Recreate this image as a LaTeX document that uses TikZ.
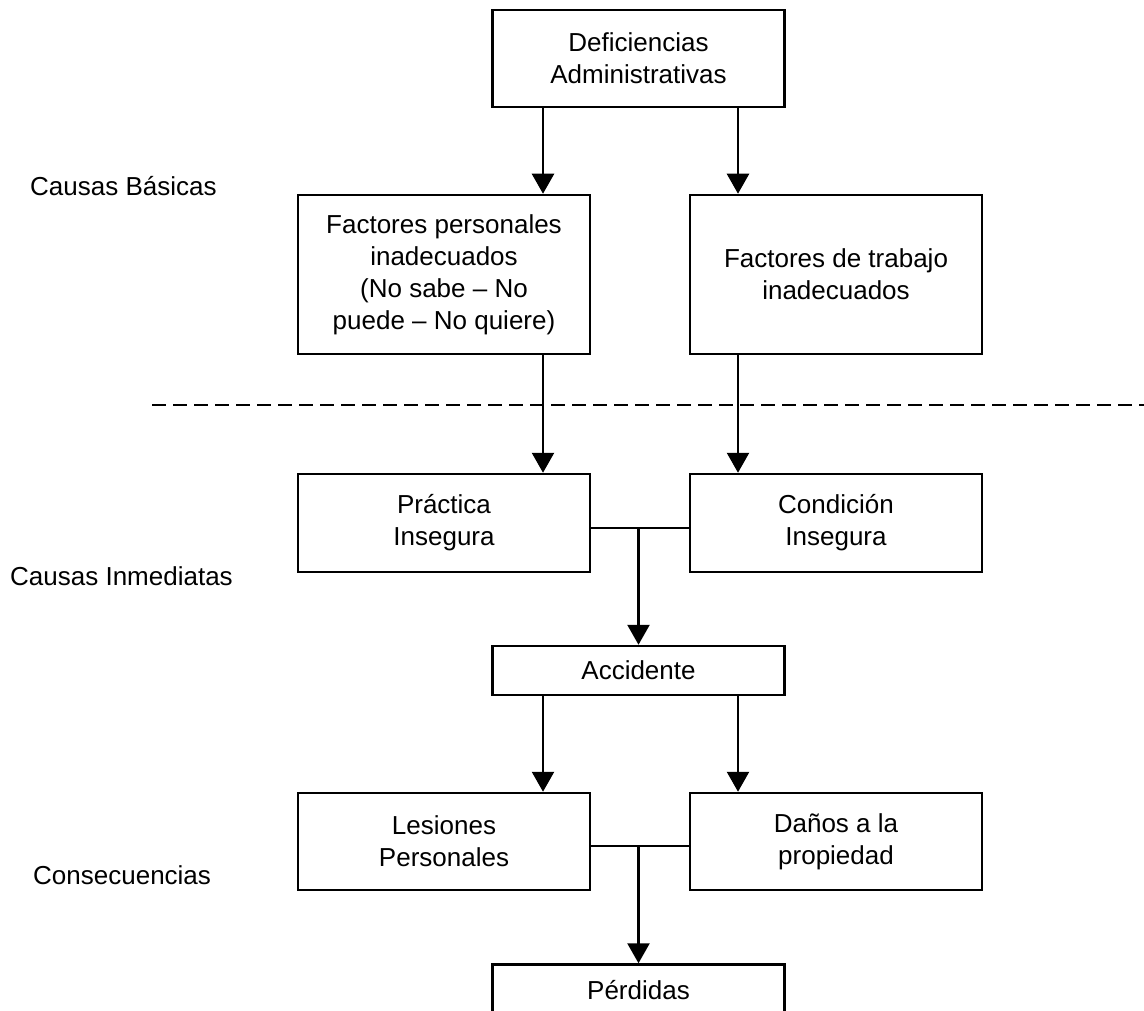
\documentclass[tikz,border=0pt]{standalone}
\usepackage{fontspec}
\setmainfont{Liberation Sans}
\usetikzlibrary{arrows.meta}
\tikzset{
  box/.style={draw=black, line width=2.5pt, minimum width=292pt, align=center, inner sep=0pt, font=\fontsize{26}{32}\selectfont},
  lbl/.style={anchor=base west, inner sep=0pt, font=\fontsize{26}{32}\selectfont},
  arr/.style={line width=2.5pt, -{Triangle[width=22pt,length=20pt]}},
  conn/.style={line width=2.5pt},
  sep/.style={line width=2.5pt, dash pattern=on 14pt off 7pt}
}
\begin{document}
\begin{tikzpicture}[x=1pt,y=-1pt]
\clip (0,0) rectangle (1144,1011);
\fill[white] (0,0) rectangle (1144,1011);

% labels
\node[lbl] (cb) at (30,196) {Causas Básicas};
\node[lbl] (cim) at (10,585) {Causas Inmediatas};
\node[lbl] (cons) at (33,884) {Consecuencias};

% boxes
\node[box, minimum height=97pt] (def) at (638.5,58.5) {Deficiencias\\Administrativas};
\node[box, minimum height=159pt] (fp) at (444,274.5) {Factores personales\\inadecuados\\(No sabe – No\\puede – No quiere)};
\node[box, minimum height=159pt] (ft) at (836,274.5) {Factores de trabajo\\inadecuados};
\node[box, minimum height=98pt] (pi) at (444,523) {Práctica\\Insegura};
\node[box, minimum height=98pt] (ci) at (836,523) {Condición\\Insegura};
\node[box, minimum height=49pt] (acc) at (638.5,670.5) {Accidente};
\node[box, minimum height=97pt] (lp) at (444,841.5) {Lesiones\\Personales};
\node[box, minimum height=97pt] (dp) at (836,841.5) {Daños a la\\propiedad};
\node[box, minimum height=50pt, text depth=0pt] (per) at (638.5,989.5) {Pérdidas};

% column positions
\coordinate (xa) at (543,0);
\coordinate (xb) at (738,0);

% separator
\coordinate (s1) at (152,405);
\coordinate (s2) at (1144,405);
\draw[sep] (s1) -- (s2);

% arrows
\draw[arr] (def.south -| xa) -- (fp.north -| xa);
\draw[arr] (def.south -| xb) -- (ft.north -| xb);
\draw[arr] (fp.south -| xa) -- (pi.north -| xa);
\draw[arr] (ft.south -| xb) -- (ci.north -| xb);

\coordinate (j1) at ([yshift=-5pt]pi.east -| acc.north);
\draw[conn] ([yshift=-5pt]pi.east) -- ([yshift=-5pt]ci.west);
\draw[arr] (j1) -- (acc.north);

\draw[arr] (acc.south -| xa) -- (lp.north -| xa);
\draw[arr] (acc.south -| xb) -- (dp.north -| xb);

\coordinate (j2) at ([yshift=-4.5pt]lp.east -| per.north);
\draw[conn] ([yshift=-4.5pt]lp.east) -- ([yshift=-4.5pt]dp.west);
\draw[arr] (j2) -- (per.north);
\end{tikzpicture}
\end{document}
